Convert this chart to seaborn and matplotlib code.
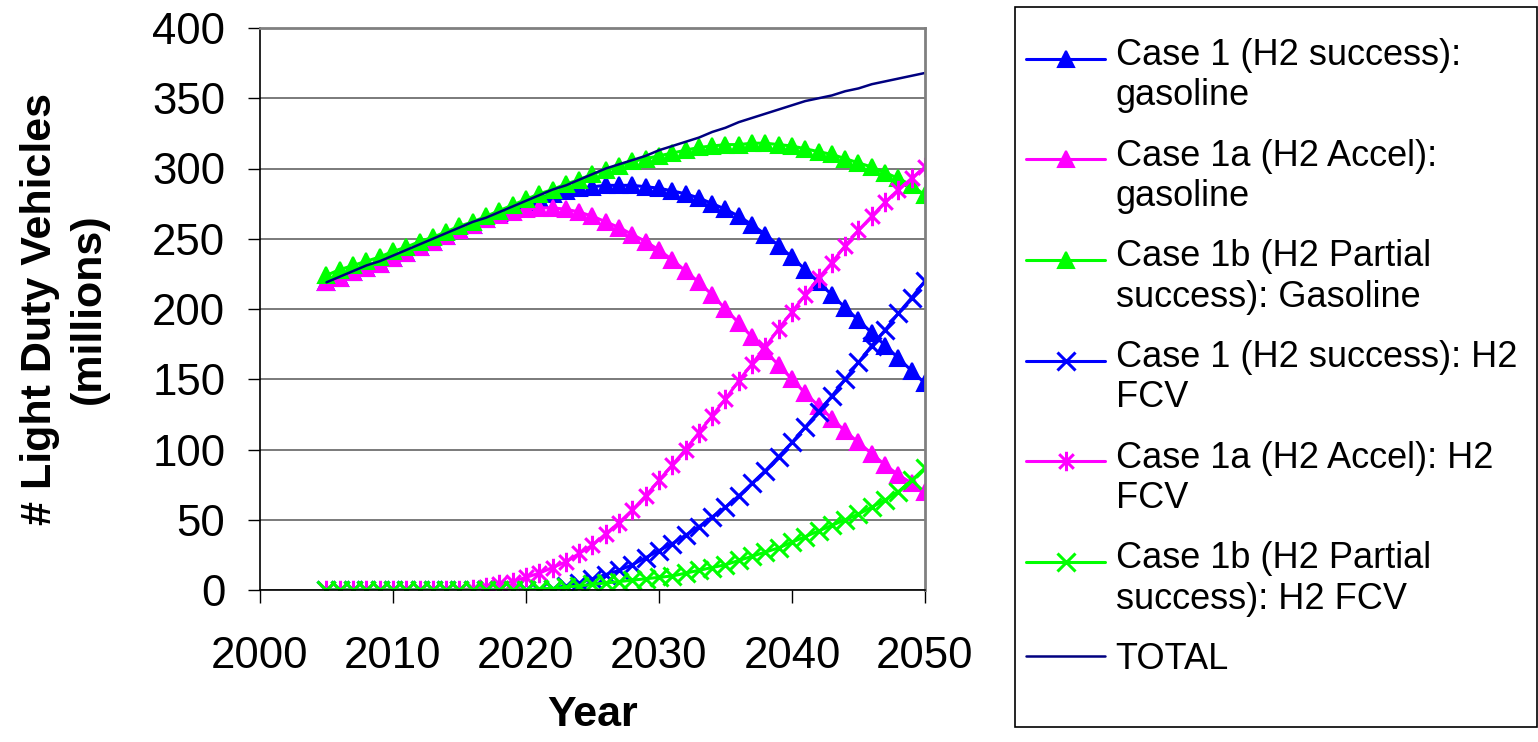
import matplotlib
matplotlib.use("Agg")
import matplotlib.pyplot as plt
from matplotlib.path import Path
from matplotlib.patches import Rectangle
import seaborn as sns

years = list(range(2005, 2051))

total = [219, 223, 227, 231, 234, 238, 242, 246, 250, 254, 258, 262, 265, 269, 273, 277,
         281, 285, 288, 292, 296, 300, 303, 306, 309, 313, 316, 319, 322, 326, 329, 333,
         336, 339, 342, 345, 348, 350, 352, 355, 357, 360, 362, 364, 366, 368]

case1_gas = [219, 222, 226, 229, 232, 236, 240, 244, 248, 252, 256, 260, 264, 268, 272, 276,
             279, 282, 284, 286, 287, 288, 288, 288, 287, 286, 284, 282, 279, 275, 271, 266,
             260, 253, 245, 237, 228, 219, 210, 201, 192, 183, 174, 165, 156, 147]

case1a_gas = [219, 222, 226, 229, 232, 236, 240, 244, 248, 252, 256, 260, 264, 267, 269, 271,
              272, 272, 271, 269, 266, 262, 258, 253, 248, 242, 235, 227, 219, 210, 200, 190,
              180, 170, 160, 150, 140, 131, 122, 113, 105, 97, 89, 82, 76, 70]

case1b_gas = [224, 228, 231, 234, 237, 241, 244, 248, 251, 255, 259, 262, 266, 270, 274, 278,
              282, 285, 289, 292, 296, 299, 302, 305, 307, 309, 311, 313, 315, 316, 317, 317,
              318, 318, 317, 316, 314, 312, 310, 307, 304, 301, 297, 293, 288, 281]

case1_fcv = [0, 0, 0, 0, 0, 0, 0, 0, 0, 0, 0, 0, 0, 0, 0, 0,
             0, 1, 3, 5, 8, 11, 14, 18, 23, 28, 33, 39, 45, 52, 59, 67,
             76, 85, 95, 105, 116, 127, 138, 150, 162, 174, 185, 197, 208, 220]

case1a_fcv = [0, 0, 0, 0, 0, 0, 0, 0, 0, 0, 0, 1, 2, 4, 6, 9,
              12, 16, 20, 26, 32, 40, 48, 57, 67, 78, 89, 100, 112, 124, 136, 149,
              161, 173, 186, 198, 210, 222, 233, 245, 256, 266, 276, 285, 293, 301]

case1b_fcv = [0, 0, 0, 0, 0, 0, 0, 0, 0, 0, 0, 0, 0, 0, 0, 0,
              1, 1, 2, 3, 4, 5, 6, 7, 8, 9, 10, 12, 14, 16, 18, 21,
              24, 27, 30, 34, 38, 42, 46, 50, 54, 59, 64, 70, 78, 87]

labels = [
    "Case 1 (H2 success):\ngasoline",
    "Case 1a (H2 Accel):\ngasoline",
    "Case 1b (H2 Partial\nsuccess): Gasoline",
    "Case 1 (H2 success): H2\nFCV",
    "Case 1a (H2 Accel): H2\nFCV",
    "Case 1b (H2 Partial\nsuccess): H2 FCV",
    "TOTAL",
]

x_ticks = [2000, 2010, 2020, 2030, 2040, 2050]
y_ticks = [0, 50, 100, 150, 200, 250, 300, 350, 400]

sns.set_theme(style="white")
plt.rcParams["font.family"] = ["Liberation Sans", "DejaVu Sans"]
plt.rcParams["text.color"] = "black"
plt.rcParams["axes.labelcolor"] = "black"
plt.rcParams["xtick.color"] = "black"
plt.rcParams["ytick.color"] = "black"

# asterisk marker: vertical stroke plus an "x"
asterisk = Path([(0, -1), (0, 1), (-0.75, -0.75), (0.75, 0.75), (-0.75, 0.75), (0.75, -0.75)],
                [Path.MOVETO, Path.LINETO, Path.MOVETO, Path.LINETO, Path.MOVETO, Path.LINETO])

series = [
    (case1_gas, "#0000FF", "^", 11, 1.5, 2.2),
    (case1a_gas, "#FF00FF", "^", 11, 1.5, 2.2),
    (case1b_gas, "#00FF00", "^", 11, 1.5, 2.2),
    (case1_fcv, "#0000FF", "x", 13, 2.2, 2.2),
    (case1a_fcv, "#FF00FF", asterisk, 14, 2.2, 2.2),
    (case1b_fcv, "#00FF00", "x", 13, 2.2, 2.2),
    (total, "#000080", None, 0, 0, 1.8),
]

fig = plt.figure(figsize=(15.38, 7.42), dpi=100)
ax = fig.add_axes([260 / 1538, 152 / 742, 665 / 1538, 562 / 742])

for (vals, color, marker, ms, mew, lw), lab in zip(series, labels):
    kws = dict(color=color, linewidth=lw, label=lab, ax=ax)
    if marker is not None:
        kws.update(marker=marker, markersize=ms, markeredgewidth=mew,
                   markeredgecolor=color, markerfacecolor=color)
    sns.lineplot(x=years, y=vals, **kws)

if ax.get_legend() is not None:
    ax.get_legend().remove()

ax.set_xlim(2000, 2050)
ax.set_ylim(0, 400)
ax.set_xticks(x_ticks)
ax.set_yticks(y_ticks)
ax.grid(axis="y", color="#707070", linewidth=1.3)
ax.grid(axis="x", visible=False)
ax.set_axisbelow(True)
for side in ("top", "right"):
    ax.spines[side].set_color("#808080")
    ax.spines[side].set_linewidth(2)
for side in ("left", "bottom"):
    ax.spines[side].set_color("black")
    ax.spines[side].set_linewidth(1.2)
ax.tick_params(axis="both", direction="out", length=9, width=1, color="black",
               labelsize=31.5, left=True, bottom=True)
ax.tick_params(axis="x", pad=24)
ax.tick_params(axis="y", pad=16)

ax.set_xlabel("Year", fontsize=31, fontweight="bold", labelpad=13)
ax.set_ylabel("# Light Duty Vehicles\n(millions)", fontsize=31, fontweight="bold",
              labelpad=31, linespacing=1.3)

handles, leg_labels = ax.get_legend_handles_labels()
leg = fig.legend(handles, leg_labels, loc="upper left",
                 bbox_to_anchor=(1026 / 1538, 1 - 38 / 742),
                 frameon=False, fontsize=26, handlelength=2.2, handletextpad=0.28,
                 labelspacing=0.70, borderpad=0, borderaxespad=0)
# put each handle beside the first line of a two-line entry
for h, lab in zip(leg.legend_handles, leg_labels):
    if "\n" in lab:
        h.set_ydata([y + 13 for y in h.get_ydata()])

fig.patches.append(Rectangle((1015 / 1538, 15 / 742), 522 / 1538, 720 / 742,
                             transform=fig.transFigure, fill=False,
                             edgecolor="black", linewidth=1.2))

fig.savefig("out.png", dpi=100)
